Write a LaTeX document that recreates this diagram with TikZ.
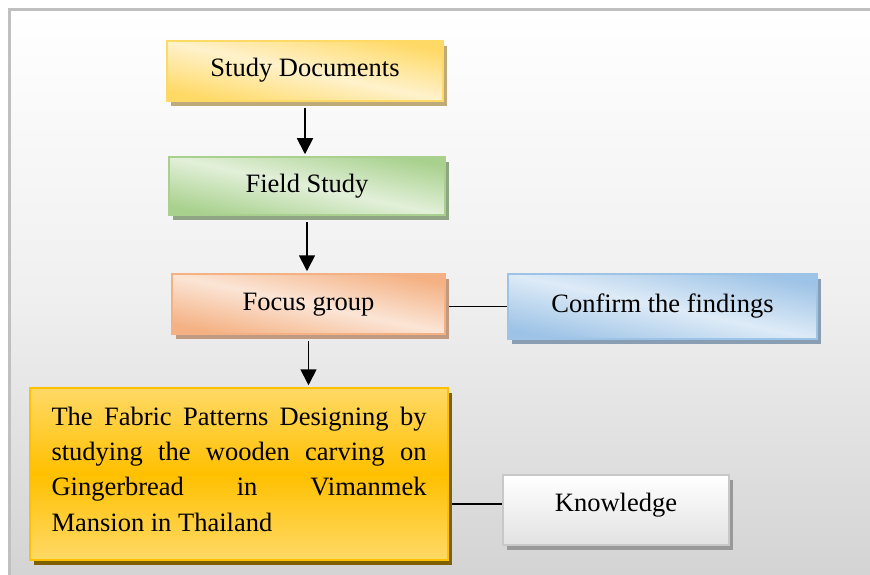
\documentclass[tikz,border=0pt]{standalone}
\usepackage{fontspec}
\setmainfont{Liberation Serif}
\usetikzlibrary{arrows.meta,shadows}
\definecolor{frameGray}{HTML}{C0C0C0}
\definecolor{ydark}{HTML}{FFD965}\definecolor{ylight}{HTML}{FFF2CC}\definecolor{yborder}{HTML}{FFD966}\definecolor{yshadow}{HTML}{BFAA7C}
\definecolor{gdark}{HTML}{A9D18E}\definecolor{glight}{HTML}{E2F0D9}\definecolor{gborder}{HTML}{A9D08E}\definecolor{gshadow}{HTML}{8FA584}
\definecolor{odark}{HTML}{F4B183}\definecolor{olight}{HTML}{FBE5D6}\definecolor{oborder}{HTML}{F4B183}\definecolor{oshadow}{HTML}{C19A82}
\definecolor{bdark}{HTML}{9DC3E6}\definecolor{blight}{HTML}{DEEBF7}\definecolor{bborder}{HTML}{9DC3E6}\definecolor{bshadow}{HTML}{8A9EB3}
\definecolor{kbottom}{HTML}{E2E2E2}\definecolor{kborder}{HTML}{C8C8C8}\definecolor{kshadow}{HTML}{999999}
\definecolor{flight}{HTML}{FFD966}\definecolor{fdark}{HTML}{FFC000}\definecolor{fborder}{HTML}{FFC000}\definecolor{fshadow}{HTML}{7F6000}
\begin{document}
\begin{tikzpicture}[x=1pt,y=-1pt,
  base/.style={rectangle, inner sep=0pt, line width=1.5pt,
    font=\fontsize{26.5pt}{35.4pt}\selectfont, text height=18pt, text depth=6pt},
  diag/.style n args={4}{base, draw=#3,
    general shadow={fill=#4, shadow xshift=4pt, shadow yshift=-5pt},
    top color=#1, bottom color=#1, middle color=#2, shading angle=-12},
  arr/.style={line width=1.8pt, -{Triangle[width=16pt,length=16pt]}, shorten <=6pt, shorten >=2pt},
  link/.style={line width=1.5pt}]
\useasboundingbox (0,0) rectangle (870,575);
% background and frame
\fill[top color=white, bottom color=black!17, middle color=black!6] (10,10) rectangle (870,575);
\draw[frameGray, line width=2.5pt] (9.5,575) -- (9.5,9.5) -- (870,9.5);
% nodes
\node[diag={ydark}{ylight}{yborder}{yshadow}, minimum width=276pt, minimum height=60pt] (study) at (305,71) {Study Documents};
\node[diag={gdark}{glight}{gborder}{gshadow}, minimum width=276pt, minimum height=58pt] (field) at (307,186) {Field Study};
\node[diag={odark}{olight}{oborder}{oshadow}, minimum width=273pt, minimum height=60pt] (focus) at (308.5,304) {Focus group};
\node[diag={bdark}{blight}{bborder}{bshadow}, minimum width=309pt, minimum height=65pt] (confirm) at (662.5,306.5) {Confirm the findings};
\node[base, draw=kborder, top color=white, bottom color=kbottom,
  general shadow={fill=kshadow, shadow xshift=4pt, shadow yshift=-5pt},
  minimum width=226pt, minimum height=70pt, text depth=16pt] (know) at (616,510) {Knowledge};
\node[base, draw=fborder, top color=flight, bottom color=flight, middle color=fdark,
  general shadow={fill=fshadow, shadow xshift=4pt, shadow yshift=-5pt},
  minimum width=418pt, minimum height=172pt, text width=375pt, align=justify,
  text height=18pt, text depth=116pt] (fab) at (239,474)
  {\hyphenpenalty=10000\hbadness=10000 The Fabric Patterns Designing by\linebreak studying the wooden carving on\linebreak Gingerbread in Vimanmek\linebreak Mansion in Thailand};
% connectors
\draw[arr] (study.south) -- (study.south |- field.north);
\draw[arr] (field.south) -- (field.south |- focus.north);
\draw[arr] (focus.south) -- (focus.south |- fab.north);
\draw[link, shorten <=3pt] (focus.east |- confirm.west) -- (confirm.west);
\coordinate (kl) at ([yshift=6pt]know.west);
\draw[link, shorten <=3pt] (fab.east |- kl) -- (kl);
\end{tikzpicture}
\end{document}
